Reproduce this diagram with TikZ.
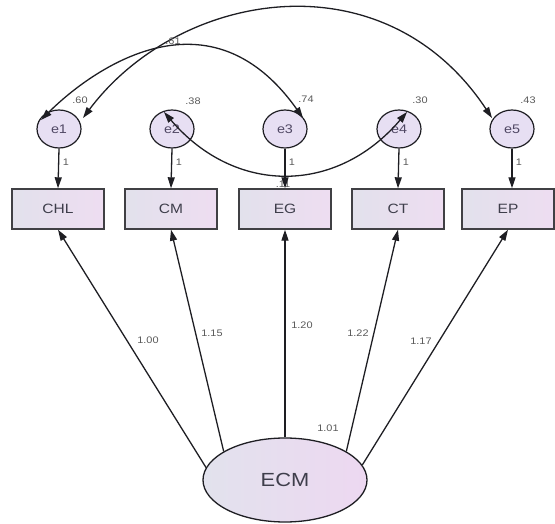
\documentclass[tikz,border=0pt]{standalone}
\usepackage{fontspec}
\setmainfont{Liberation Sans}[FakeStretch=1.15]
\usetikzlibrary{arrows.meta,shapes.geometric,calc}

\definecolor{boxL}{RGB}{226,225,236}
\definecolor{boxR}{RGB}{238,221,241}
\definecolor{errfill}{RGB}{231,223,243}
\definecolor{latL}{RGB}{226,226,237}
\definecolor{latR}{RGB}{237,216,241}
\definecolor{txt}{RGB}{62,62,75}
\definecolor{etxt}{RGB}{80,72,100}
\definecolor{ln}{RGB}{30,30,35}

\begin{document}
\begin{tikzpicture}[x=1pt,y=-1pt,
  obs/.style={draw=ln!85, line width=1.4pt, minimum width=92pt, minimum height=40pt,
    inner sep=0pt, left color=boxL, right color=boxR,
    font=\fontsize{13.5}{13.5}\selectfont, text=txt},
  err/.style={ellipse, draw=ln, line width=1.2pt, minimum width=44pt, minimum height=38pt,
    inner sep=0pt, fill=errfill, font=\fontsize{12.5}{12.5}\selectfont, text=etxt},
  lat/.style={ellipse, draw=ln, line width=1.3pt, minimum width=164pt, minimum height=84pt,
    inner sep=0pt, left color=latL, right color=latR,
    font=\fontsize{19}{19}\selectfont, text=txt},
  reg/.style={-{Triangle[length=11pt,width=7pt]}, line width=1.3pt, draw=ln},
  cov/.style={{Triangle[length=11pt,width=7pt]}-{Triangle[length=11pt,width=7pt]},
    line width=1.3pt, draw=ln},
  num/.style={font=\fontsize{9.5}{9.5}\selectfont, text=black!65, inner sep=0pt}
]
\useasboundingbox (0,0) rectangle (555,524);

% error terms
\node[err] (e1) at (59,129)  {e1};
\node[err] (e2) at (172,129) {e2};
\node[err] (e3) at (285,129) {e3};
\node[err] (e4) at (399,129) {e4};
\node[err] (e5) at (512,129) {e5};

% observed indicators
\node[obs] (chl) at (58,209)  {CHL};
\node[obs] (cm)  at (171,209) {CM};
\node[obs] (eg)  at (285,209) {EG};
\node[obs] (ct)  at (398,209) {CT};
\node[obs] (ep)  at (508,209) {EP};

% latent factor
\node[lat] (ecm) at (285,480) {ECM};

% covariance label under the e2--e4 arc (partly hidden by the EG arrow)
\node[num] (c24) at (283,184) {.11};

% factor loadings
\draw[reg] (ecm.171) -- (chl.south);
\draw[reg] (ecm.155) -- (cm.south);
\draw[reg] (ecm.north) -- (eg.south);
\draw[reg] (ecm.25) -- (ct.south);
\draw[reg] (ecm.11) -- (ep.south);

\node[num] (l1) at (148,340) {1.00};
\node[num] (l2) at (212,333) {1.15};
\node[num] (l3) at (302,325) {1.20};
\node[num] (l4) at (358,333) {1.22};
\node[num] (l5) at (421,341) {1.17};
\node[num] (vecm) at (328,428) {1.01};

% error paths fixed to 1
\draw[reg] (e1.south) -- (chl.north);
\draw[reg] (e2.south) -- (cm.north);
\draw[reg] (e3.south) -- (eg.north);
\draw[reg] (e4.south) -- (ct.north);
\draw[reg] (e5.south) -- (e5.south |- ep.north);

\node[num] (w1) at (66,162)  {1};
\node[num] (w2) at (179,162) {1};
\node[num] (w3) at (292,162) {1};
\node[num] (w4) at (406,162) {1};
\node[num] (w5) at (519,162) {1};

% error variances
\node[num] (v1) at (80,100)  {.60};
\node[num] (v2) at (193,101) {.38};
\node[num] (v3) at (306,99)  {.74};
\node[num] (v4) at (420,100) {.30};
\node[num] (v5) at (528,100) {.43};

% error covariances
\coordinate (a13) at ($(e1)+(-18,-9)$);
\coordinate (b13) at ($(e3)+(18,-11)$);
\draw[cov] (a13) .. controls (85,76) and (206,-19) .. (b13);

\coordinate (a15) at ($(e1)+(24,-11)$);
\coordinate (b15) at ($(e5)+(-20,-11)$);
\draw[cov] (a15) .. controls (179,-10) and (384,-45) .. (b15);

\coordinate (a24) at ($(e2)+(-8,-17)$);
\coordinate (b24) at ($(e4)+(8,-17)$);
\draw[cov] (a24) .. controls (235,195) and (336,195) .. (b24);

\node[num] (c15) at (173,41) {.61};
\end{tikzpicture}
\end{document}
